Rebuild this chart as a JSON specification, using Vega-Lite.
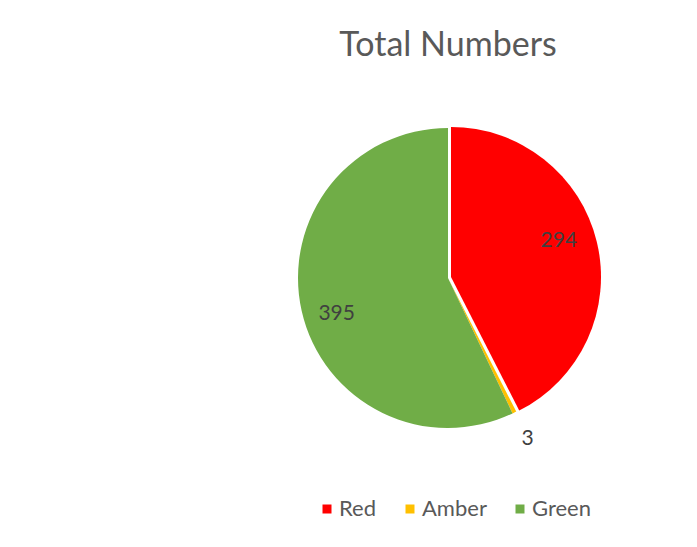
{
  "$schema": "https://vega.github.io/schema/vega-lite/v6.json",
  "width": 300,
  "height": 300,
  "autosize": {"type": "none"},
  "padding": {"left": 298, "top": 128, "right": 99, "bottom": 119},
  "background": "white",
  "title": {"text": "Total Numbers", "fontSize": 34, "font": "Lato", "fontWeight": "normal", "color": "#595959", "offset": 64, "anchor": "middle"},
  "data": {"values": [
    {"category": "Red", "value": 294, "rank": 1},
    {"category": "Amber", "value": 3, "rank": 2},
    {"category": "Green", "value": 395, "rank": 3}
  ]},
  "encoding": {
    "theta": {"field": "value", "type": "quantitative", "stack": true},
    "order": {"field": "rank", "type": "quantitative"},
    "color": {
      "field": "category", "type": "nominal",
      "sort": ["Red", "Amber", "Green"],
      "scale": {"domain": ["Red", "Amber", "Green"], "range": ["#FF0000", "#FFC000", "#70AD47"]},
      "legend": {
        "orient": "none", "legendX": 18, "legendY": 370,
        "direction": "horizontal", "title": null,
        "symbolType": "square", "symbolSize": 81, "symbolStrokeWidth": 0,
        "labelFont": "Lato", "labelFontSize": 22, "labelColor": "#595959",
        "labelOffset": 1, "columnPadding": 22
      }
    }
  },
  "layer": [
    {
      "mark": {"type": "arc", "radius": 150},
      "encoding": {
        "opacity": {"condition": {"test": "datum.category === 'Red'", "value": 0}, "value": 1}
      }
    },
    {
      "mark": {"type": "arc", "radius": 150, "xOffset": 3, "yOffset": -1},
      "encoding": {
        "opacity": {"condition": {"test": "datum.category === 'Red'", "value": 1}, "value": 0}
      }
    },
    {
      "mark": {"type": "text", "radius": 117, "thetaOffset": -0.09, "font": "Lato", "fontSize": 21},
      "encoding": {
        "text": {"condition": {"test": "datum.category === 'Amber'", "value": ""}, "field": "value", "type": "quantitative"},
        "color": {"value": "#404040"}
      }
    },
    {
      "mark": {"type": "text", "radius": 180, "font": "Lato", "fontSize": 21},
      "encoding": {
        "text": {"condition": {"test": "datum.category !== 'Amber'", "value": ""}, "field": "value", "type": "quantitative"},
        "color": {"value": "#404040"}
      }
    }
  ]
}
